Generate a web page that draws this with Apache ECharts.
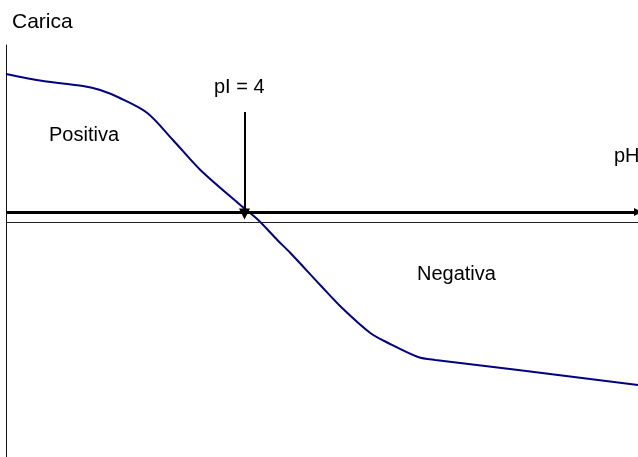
<!DOCTYPE html>
<html>
<head>
<meta charset="utf-8">
<script src="https://cdn.jsdelivr.net/npm/echarts@6/dist/echarts.min.js"></script>
<style>
  html, body { margin: 0; padding: 0; background: #fff; }
  #chart { width: 638px; height: 457px; }
</style>
</head>
<body>
<div id="chart"></div>
<script>
// charge curve (pH, charge)
const phValues = [0, 0.62, 1.29, 1.58, 1.91, 2.37, 2.80, 3.26, 3.93, 4.23, 4.55, 4.77, 5.27, 5.62, 6.11, 6.41, 6.91, 7.20, 8.59, 10.6]
const chargeValues = [2.76, 2.62, 2.52, 2.44, 2.28, 1.98, 1.44, 0.84, 0.14, -0.16, -0.56, -0.82, -1.46, -1.90, -2.42, -2.62, -2.90, -2.96, -3.16, -3.46]
const pI = 4
const pIArrowTop = 2.0
const baseLine = -0.2

const curve = phValues.map((x, i) => [x, chargeValues[i]])

const chart = echarts.init(document.getElementById('chart'))
const font = 'Liberation Sans, Arial, sans-serif'

chart.setOption({
  animation: false,
  backgroundColor: '#fff',
  grid: { left: 6, right: 0, top: 45, bottom: 0 },
  xAxis: {
    type: 'value',
    min: 0,
    max: 10.6,
    axisLine: { show: false },
    axisTick: { show: false },
    axisLabel: { show: false },
    splitLine: { show: false }
  },
  yAxis: {
    type: 'value',
    min: -4.9,
    max: 3.34,
    axisLine: { show: true, lineStyle: { color: '#111', width: 1 } },
    axisTick: { show: false },
    axisLabel: { show: false },
    splitLine: { show: false }
  },
  graphic: [
    { type: 'text', left: 12, top: 12, style: { text: 'Carica', font: '21px ' + font, fill: '#000' } },
    { type: 'text', left: 49, top: 125, style: { text: 'Positiva', font: '20px ' + font, fill: '#000' } },
    { type: 'text', left: 417, top: 264, style: { text: 'Negativa', font: '20px ' + font, fill: '#000' } },
    { type: 'text', left: 214, top: 77, style: { text: 'pI = 4', font: '20px ' + font, fill: '#000' } },
    { type: 'text', left: 614, top: 146, style: { text: 'pH', font: '20px ' + font, fill: '#000' } }
  ],
  series: [{
    type: 'line',
    data: curve,
    smooth: 0.3,
    symbol: 'none',
    clip: false,
    lineStyle: { color: '#000080', width: 2 },
    markLine: {
      silent: true,
      label: { show: false },
      data: [
        [
          { coord: [0, baseLine], symbol: 'none' },
          { coord: [10.6, baseLine], symbol: 'none' }
        ],
        [
          { coord: [0, 0], symbol: 'none', lineStyle: { color: '#000', width: 3, type: 'solid' } },
          { coord: [10.6, 0], symbol: 'triangle', symbolSize: [8, 8] }
        ],
        [
          { coord: [pI, pIArrowTop], symbol: 'none', lineStyle: { color: '#000', width: 2, type: 'solid' } },
          { coord: [pI, -0.04], symbol: 'triangle', symbolSize: [11, 11] }
        ]
      ],
      lineStyle: { color: '#222', width: 1, type: 'solid' }
    }
  }]
})
</script>
</body>
</html>
